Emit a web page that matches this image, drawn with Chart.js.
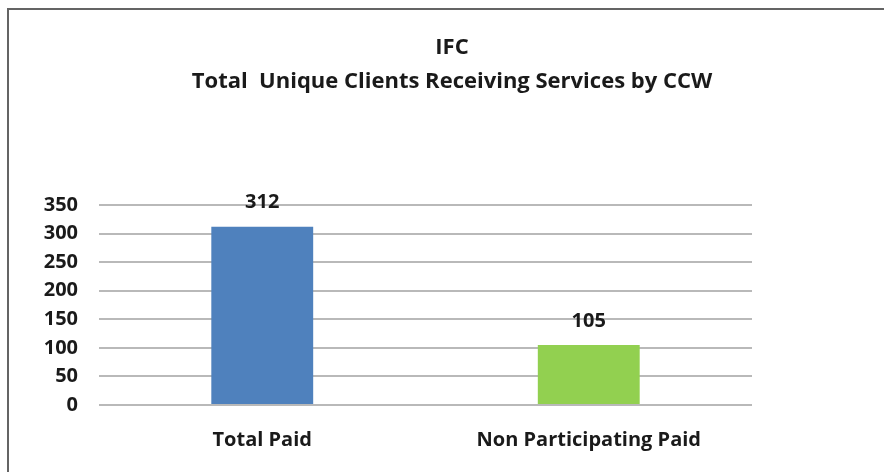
<!DOCTYPE html>
<html>
<head>
<meta charset="utf-8">
<script src="https://cdn.jsdelivr.net/npm/chart.js@4.4.1/dist/chart.umd.min.js"></script>
<style>
  html, body { margin: 0; padding: 0; background: #fff; }
  #wrap { position: relative; width: 884px; height: 472px; }
  #frame {
    position: absolute; left: 7px; top: 8px; right: -4px; bottom: -4px;
    border-left: 2px solid #646464; border-top: 2px solid #646464;
    pointer-events: none;
  }
</style>
</head>
<body>
<div id="wrap">
  <canvas id="chart" width="884" height="472"></canvas>
  <div id="frame"></div>
</div>
<script>
const categories = ["Total Paid", "Non Participating Paid"];
const clientCounts = [312, 105];
const barColors = ["#4F81BD", "#92D050"];
const titleLines = ["IFC", "Total  Unique Clients Receiving Services by CCW"];
const yTicks = [0, 50, 100, 150, 200, 250, 300, 350];

const FONT = "'Open Sans', Lato, sans-serif";

// value labels above each bar
const barValues = {
    id: "barValues",
    afterDatasetsDraw(chart) {
        const ctx = chart.ctx;
        const meta = chart.getDatasetMeta(0);
        ctx.save();
        ctx.font = "bold 20px " + FONT;
        ctx.fillStyle = "#1a1a1a";
        ctx.textAlign = "center";
        ctx.textBaseline = "middle";
        meta.data.forEach((bar, i) => {
            ctx.fillText(String(clientCounts[i]), bar.x, bar.y - 24);
        });
        ctx.restore();
    }
};

const ctx = document.getElementById("chart").getContext("2d");
new Chart(ctx, {
    type: "bar",
    data: {
        labels: categories,
        datasets: [{
            data: clientCounts,
            backgroundColor: barColors,
            borderWidth: 0,
            categoryPercentage: 1,
            barPercentage: 0.312
        }]
    },
    options: {
        responsive: false,
        animation: false,
        layout: { padding: { left: 20, right: 0, top: 0, bottom: 0 } },
        plugins: {
            legend: { display: false },
            tooltip: { enabled: false },
            title: {
                display: true,
                text: titleLines,
                color: "#1a1a1a",
                font: { family: FONT, size: 22, weight: "bold", lineHeight: "34px" },
                padding: { top: 31, bottom: 106 }
            }
        },
        scales: {
            x: {
                grid: { display: false },
                border: { display: false },
                ticks: {
                    color: "#1a1a1a",
                    padding: 15,
                    font: { family: FONT, size: 20, weight: "bold" }
                },
                afterFit(scale) { scale.height = 67; }
            },
            y: {
                min: 0,
                max: 350,
                afterBuildTicks(scale) {
                    scale.ticks = yTicks.map(v => ({ value: v }));
                },
                grid: { color: "#b9b9b9", lineWidth: 2, drawTicks: false },
                border: { display: false },
                ticks: {
                    color: "#1a1a1a",
                    padding: 21,
                    font: { family: FONT, size: 20, weight: "bold" }
                },
                afterFit(scale) { scale.width = 79; }
            },
            // empty axis reserving the space to the right of the plot
            spacer: {
                position: "right",
                display: true,
                grid: { display: false },
                border: { display: false },
                ticks: { display: false },
                afterFit(scale) { scale.width = 132; }
            }
        }
    },
    plugins: [barValues]
});
</script>
</body>
</html>
